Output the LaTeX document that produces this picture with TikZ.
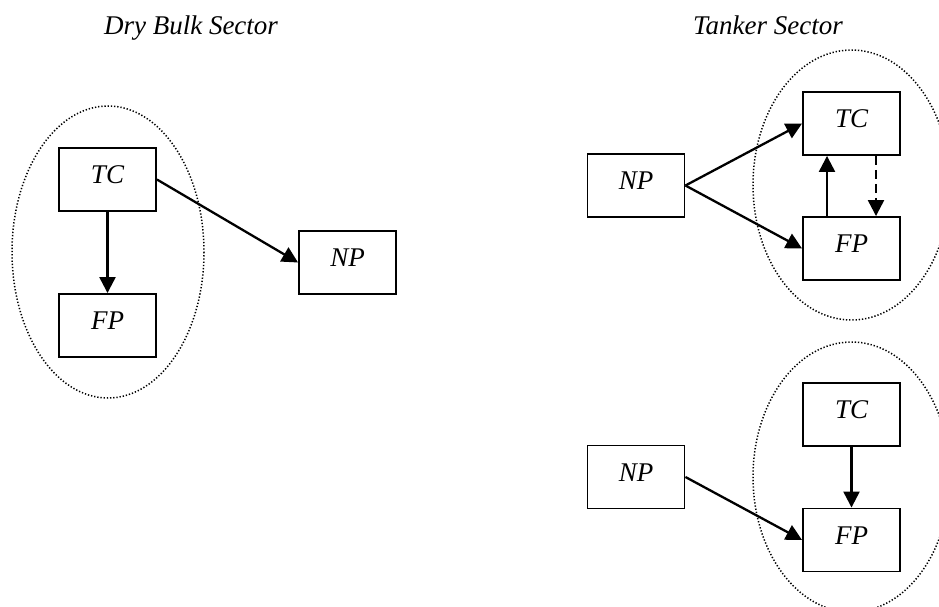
\documentclass[tikz,border=0pt]{standalone}
\usepackage{fontspec}
\setmainfont{Liberation Serif}
\usetikzlibrary{arrows.meta}
\begin{document}
\begin{tikzpicture}[x=1pt,y=-1pt,
  font=\fontsize{27}{30}\selectfont\itshape,
  varbox/.style={draw, line width=1.9pt, minimum width=97pt, minimum height=63pt,
    inner sep=0pt, text height=18pt, text depth=10pt},
  link/.style={line width=2.3pt, -{Triangle[length=16pt,width=16pt]}},
  group/.style={draw, line width=1.5pt, dash pattern=on 1.3pt off 1.9pt},
  heading/.style={anchor=base}]
\useasboundingbox (0,0) rectangle (939,607);

% headings
\node[heading] (hdry) at (191,35) {Dry Bulk Sector};
\node[heading] (htank) at (768,35) {Tanker Sector};

% dry bulk sector
\draw[group] (108,252) ellipse [x radius=96, y radius=146];
\node[varbox] (dtc) at (107.5,179.5) {TC};
\node[varbox] (dfp) at (107.5,325.5) {FP};
\node[varbox] (dnp) at (347.5,262.5) {NP};
\draw[link] (dtc) -- (dfp);
\draw[link] (dtc.east) -- (dnp.west);

% tanker sector, upper system
\draw[group] (851.5,185) ellipse [x radius=98.5, y radius=135];
\node[varbox] (unp) at (636,185.5) {NP};
\node[varbox] (utc) at (851.5,123.5) {TC};
\node[varbox] (ufp) at (851.5,248.5) {FP};
\draw[link] (unp.east) -- (utc.west);
\draw[link] (unp.east) -- (ufp.west);
\draw[link] ([xshift=-24.5pt]ufp.north) -- ([xshift=-24.5pt]utc.south);
\draw[link, dash pattern=on 9pt off 5pt] ([xshift=24.5pt]utc.south) -- ([xshift=24.5pt]ufp.north);

% tanker sector, lower system
\draw[group] (851.5,477) ellipse [x radius=98.5, y radius=135];
\node[varbox] (lnp) at (636,477) {NP};
\node[varbox] (ltc) at (851.5,414.5) {TC};
\node[varbox] (lfp) at (851.5,540) {FP};
\draw[link] (lnp.east) -- (lfp.west);
\draw[link] (ltc) -- (lfp);
\end{tikzpicture}
\end{document}
